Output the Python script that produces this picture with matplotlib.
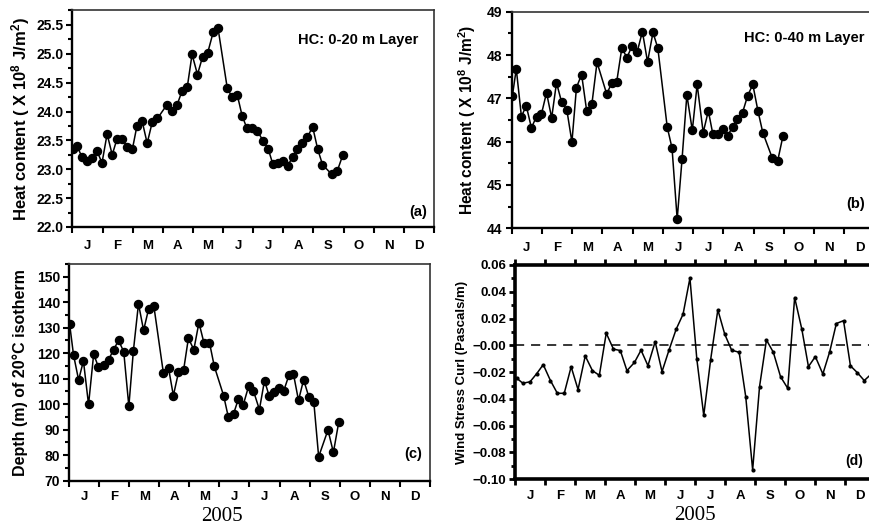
import matplotlib
matplotlib.use("Agg")
import matplotlib.pyplot as plt
from matplotlib.ticker import MultipleLocator

plt.rcParams['font.family'] = ['Liberation Sans', 'DejaVu Sans']
plt.rcParams['font.weight'] = 'bold'
plt.rcParams['mathtext.fontset'] = 'custom'
plt.rcParams['mathtext.bf'] = 'Liberation Sans:bold'
plt.rcParams['mathtext.rm'] = 'Liberation Sans:bold'
plt.rcParams['mathtext.default'] = 'bf'

months = ['J', 'F', 'M', 'A', 'M', 'J', 'J', 'A', 'S', 'O', 'N', 'D']

# time in months since 1 Jan 2005 (pentad series, panels a-c)
t_pentad = [0.02, 0.15, 0.32, 0.48, 0.65, 0.82, 0.98, 1.15, 1.32, 1.48, 1.65, 1.82, 1.99,
            2.14, 2.31, 2.48, 2.65, 2.82, 3.14, 3.31, 3.47, 3.64, 3.81, 3.97, 4.15, 4.32,
            4.49, 4.67, 4.83, 5.14, 5.30, 5.47, 5.63, 5.79, 5.97, 6.13, 6.33, 6.50, 6.65,
            6.83, 6.98, 7.14, 7.31, 7.46, 7.63, 7.80, 7.97, 8.14, 8.30, 8.61, 8.79, 8.97]

hc20 = [23.35, 23.40, 23.21, 23.15, 23.20, 23.31, 23.11, 23.61, 23.25, 23.53, 23.53, 23.38,
        23.35, 23.75, 23.84, 23.45, 23.82, 23.88, 24.12, 24.01, 24.11, 24.36, 24.42, 24.99,
        24.64, 24.95, 25.02, 25.37, 25.45, 24.40, 24.25, 24.29, 23.93, 23.71, 23.71, 23.67,
        23.49, 23.35, 23.09, 23.10, 23.14, 23.06, 23.21, 23.35, 23.45, 23.55, 23.74, 23.35,
        23.08, 22.91, 22.97, 23.24]

hc40 = [47.05, 47.68, 46.58, 46.83, 46.32, 46.58, 46.63, 47.13, 46.55, 47.36, 46.91, 46.74,
        45.99, 47.25, 47.55, 46.70, 46.87, 47.83, 47.10, 47.36, 47.38, 48.16, 47.94, 48.20,
        48.08, 48.54, 47.84, 48.52, 48.16, 46.34, 45.85, 44.21, 45.59, 47.08, 46.26, 47.32,
        46.21, 46.71, 46.17, 46.17, 46.30, 46.14, 46.35, 46.53, 46.67, 47.06, 47.32, 46.71,
        46.21, 45.63, 45.55, 46.14]

d20 = [131.5, 119.4, 109.5, 117.0, 99.9, 119.6, 114.6, 115.5, 117.5, 121.4, 125.0, 120.6,
       99.2, 120.9, 139.4, 129.0, 137.5, 138.6, 112.1, 114.1, 103.4, 112.5, 113.4, 125.9,
       121.4, 132.0, 123.9, 124.2, 114.9, 103.4, 94.8, 96.2, 102.0, 99.6, 107.0, 105.3,
       97.9, 109.3, 103.4, 104.9, 106.5, 105.3, 111.3, 112.0, 101.5, 109.6, 103.0, 100.7,
       79.4, 89.9, 81.1, 93.1]

# weekly wind stress curl (panel d)
t_week = [0.06, 0.26, 0.50, 0.72, 0.94, 1.18, 1.41, 1.64, 1.87, 2.10, 2.34, 2.58, 2.81,
          3.04, 3.28, 3.51, 3.73, 3.98, 4.20, 4.43, 4.67, 4.90, 5.13, 5.37, 5.60, 5.83,
          6.06, 6.29, 6.52, 6.76, 6.99, 7.22, 7.47, 7.69, 7.92, 8.15, 8.38, 8.61, 8.85,
          9.09, 9.32, 9.56, 9.78, 10.01, 10.26, 10.49, 10.71, 10.95, 11.18, 11.41, 11.64, 11.87]
wsc = [-0.0246, -0.0283, -0.0272, -0.0212, -0.0144, -0.0263, -0.0358, -0.0358, -0.0160,
       -0.0330, -0.0079, -0.0189, -0.0224, 0.0091, -0.0028, -0.0039, -0.0189, -0.0128,
       -0.0036, -0.0152, 0.0027, -0.0196, -0.0037, 0.0120, 0.0232, 0.0502, -0.0104,
       -0.0523, -0.0107, 0.0265, 0.0083, -0.0036, -0.0052, -0.0384, -0.0930, -0.0308,
       0.0040, -0.0052, -0.0234, -0.0321, 0.0357, 0.0120, -0.0159, -0.0084, -0.0214,
       -0.0047, 0.0163, 0.0184, -0.0153, -0.0204, -0.0263, -0.0215]

fig = plt.figure(figsize=(8.7, 5.29), dpi=100)
ax_a = fig.add_axes([0.0833, 0.5709, 0.4155, 0.4093])
ax_b = fig.add_axes([0.5882, 0.5684, 0.4172, 0.4095])
ax_c = fig.add_axes([0.0793, 0.0913, 0.4149, 0.4096])
ax_d = fig.add_axes([0.5920, 0.0940, 0.4138, 0.4051])


def month_axis(ax, pad, spw=1.5, top=False):
    ax.set_xlim(0, 12)
    ax.set_xticks(range(13))
    ax.set_xticklabels([])
    ax.set_xticks([m + 0.5 for m in range(12)], minor=True)
    ax.set_xticklabels(months, minor=True)
    ax.tick_params(axis='x', which='major', direction='out', length=4.5, width=spw, top=top)
    ax.tick_params(axis='x', which='minor', length=0, pad=pad, labelsize=9.5)
    ax.tick_params(axis='y', which='major', direction='out', length=4.5, width=spw,
                   labelsize=10, pad=2)
    ax.tick_params(axis='y', which='minor', direction='out', length=3, width=spw)
    for lbl in ax.get_yticklabels() + ax.get_xticklabels(minor=True):
        lbl.set_fontweight('bold')


for ax in (ax_a, ax_b, ax_c):
    for s in ('left', 'bottom'):
        ax.spines[s].set_linewidth(1.7)
    for s in ('top', 'right'):
        ax.spines[s].set_linewidth(1.2)
        ax.spines[s].set_color('#333333')

ylab_hc = r'Heat content ( X 10$^{8}$ J/m$^{2}$)'

# (a)
ax_a.plot(t_pentad, hc20, '-o', color='black', lw=1.1, ms=5.8)
ax_a.set_ylim(22.0, 25.75)
ax_a.yaxis.set_major_locator(MultipleLocator(0.5))
ax_a.yaxis.set_minor_locator(MultipleLocator(0.25))
ax_a.yaxis.set_major_formatter('{x:.1f}')
month_axis(ax_a, pad=9.5)
ax_a.set_ylabel(ylab_hc, fontsize=12, fontweight='bold', va='center')
ax_a.yaxis.set_label_coords(-0.145, 0.5)
ax_a.text(0.956, 0.864, 'HC: 0-20 m Layer', transform=ax_a.transAxes, ha='right',
          va='center', fontsize=10.5, fontweight='bold')
ax_a.text(0.981, 0.07, '(a)', transform=ax_a.transAxes, ha='right', va='center',
          fontsize=10.5, fontweight='bold')

# (b)
ax_b.plot(t_pentad, hc40, '-o', color='black', lw=1.1, ms=5.8)
ax_b.set_ylim(44, 49)
ax_b.yaxis.set_major_locator(MultipleLocator(1))
ax_b.yaxis.set_minor_locator(MultipleLocator(0.5))
month_axis(ax_b, pad=9.5)
ax_b.set_ylabel(ylab_hc, fontsize=11.2, fontweight='bold', va='center')
ax_b.yaxis.set_label_coords(-0.124, 0.5)
ax_b.text(0.973, 0.879, 'HC: 0-40 m Layer', transform=ax_b.transAxes, ha='right',
          va='center', fontsize=10.5, fontweight='bold')
ax_b.text(0.973, 0.112, '(b)', transform=ax_b.transAxes, ha='right', va='center',
          fontsize=10.5, fontweight='bold')

# (c)
ax_c.plot(t_pentad, d20, '-o', color='black', lw=1.1, ms=5.8)
ax_c.set_ylim(70, 155)
ax_c.yaxis.set_major_locator(MultipleLocator(10))
ax_c.yaxis.set_minor_locator(MultipleLocator(5))
month_axis(ax_c, pad=7.5)
ax_c.set_ylabel('Depth (m) of 20°C isotherm', fontsize=11.5, fontweight='bold', va='center')
ax_c.yaxis.set_label_coords(-0.136, 0.5)
ax_c.text(0.978, 0.123, '(c)', transform=ax_c.transAxes, ha='right', va='center',
          fontsize=10.5, fontweight='bold')
ax_c.text(0.425, -0.165, '2005', transform=ax_c.transAxes, ha='center', va='center',
          fontsize=15, fontweight='normal', family=['Liberation Serif'])

# (d)
for s in ax_d.spines.values():
    s.set_linewidth(2.6)
ax_d.plot(t_week, wsc, '-o', color='black', lw=1.1, ms=2)
ax_d.axhline(0, color='black', lw=1.1, ls=(0, (6, 4.5)))
ax_d.set_ylim(-0.10, 0.06)
ax_d.yaxis.set_major_locator(MultipleLocator(0.02))
ax_d.yaxis.set_minor_locator(MultipleLocator(0.01))
ax_d.yaxis.set_major_formatter('{x:.2f}')
month_axis(ax_d, pad=7.5, spw=2, top=True)
ax_d.tick_params(axis='y', which='major', labelsize=9.5)
ax_d.set_ylabel('Wind Stress Curl (Pascals/m)', fontsize=9.5, fontweight='bold', va='center')
ax_d.yaxis.set_label_coords(-0.148, 0.5)
ax_d.text(0.967, 0.087, '(d)', transform=ax_d.transAxes, ha='right', va='center',
          fontsize=10, fontweight='bold')
ax_d.text(0.50, -0.17, '2005', transform=ax_d.transAxes, ha='center', va='center',
          fontsize=15, fontweight='normal', family=['Liberation Serif'])

fig.savefig('out.png', dpi=100)
